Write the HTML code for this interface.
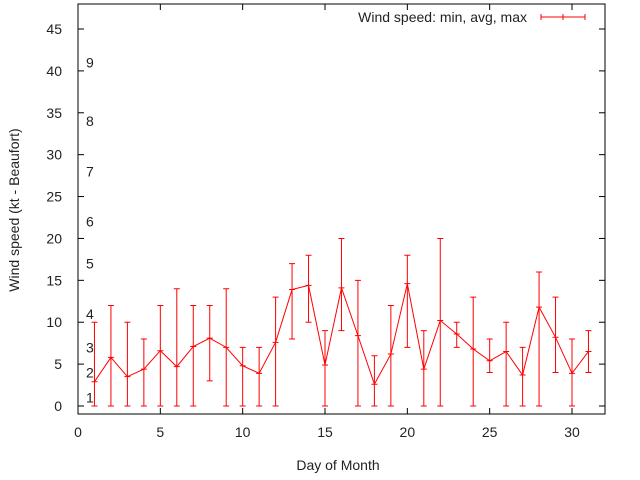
<!DOCTYPE html>
<html><head><meta charset="utf-8"><style>body{margin:0;background:#fff}svg{display:block;font-family:"Liberation Sans",sans-serif}</style></head>
<body>
<svg id="chart" width="640" height="480" xmlns="http://www.w3.org/2000/svg"></svg>
<script>
const days=[1,2,3,4,5,6,7,8,9,10,11,12,13,14,15,16,17,18,19,20,21,22,23,24,25,26,27,28,29,30,31];
const minVals=[0,0,0,0,0,0,0,3,0,0,0,0,8,10,0,9,0,0,0,7,0,0,7,0,4,0,0,0,4,0,4];
const avgVals=[2.9,5.8,3.5,4.4,6.6,4.7,7.1,8.1,7.0,4.8,3.9,7.6,13.9,14.4,4.9,14.1,8.4,2.6,6.2,14.6,4.4,10.2,8.6,6.8,5.4,6.5,3.7,11.8,8.2,3.9,6.5];
const maxVals=[10,12,10,8,12,14,12,12,14,7,7,13,17,18,9,20,15,6,12,18,9,20,10,13,8,10,7,16,13,8,9];
const xTicks=[0,5,10,15,20,25,30];
const yTicks=[0,5,10,15,20,25,30,35,40,45];
const beaufortLabels=["1","2","3","4","5","6","7","8","9"];
const beaufortKt=[1,4,7,11,17,22,28,34,41];
const L=78,R=605,T=4,B=414;
const X=v=>78+v*(572-78)/30;
const Y=v=>406-v*(406-29)/45;
const svg=document.getElementById('chart');
const NS='http://www.w3.org/2000/svg';
function mk(t,a,txt){const e=document.createElementNS(NS,t);for(const k in a)e.setAttribute(k,a[k]);if(txt!==undefined)e.textContent=txt;svg.appendChild(e);return e;}
let e;
e=mk('rect',{x:L,y:T,width:R-L,height:B-T,fill:'none',stroke:'#000','stroke-width':1});

xTicks.forEach(v=>{
 e=mk('line',{x1:X(v),x2:X(v),y1:B,y2:B-6,stroke:'#000'});
 
 e=mk('line',{x1:X(v),x2:X(v),y1:T,y2:T+6,stroke:'#000'});
 
 e=mk('text',{x:X(v),y:B+23,'text-anchor':'middle','font-size':14,fill:'#222'},String(v));
 
});
yTicks.forEach(v=>{
 e=mk('line',{x1:L,x2:L+6,y1:Y(v),y2:Y(v),stroke:'#000'});
 
 e=mk('line',{x1:R,x2:R-6,y1:Y(v),y2:Y(v),stroke:'#000'});
 
 e=mk('text',{x:L-16,y:Y(v)+5,'text-anchor':'end','font-size':14,fill:'#222'},String(v));
 
});
beaufortKt.forEach((v,i)=>{
 e=mk('text',{x:86,y:Y(v)+5,'font-size':14,fill:'#222'},beaufortLabels[i]);
 
});
e=mk('text',{x:338,y:470,'text-anchor':'middle','font-size':14,fill:'#222'},'Day of Month');

e=mk('text',{x:19,y:210,'text-anchor':'middle','font-size':14,fill:'#222',transform:'rotate(-90 19 210)'},'Wind speed (kt - Beaufort)');

e=mk('polyline',{points:days.map((d,i)=>X(d)+','+Y(avgVals[i])).join(' '),fill:'none',stroke:'#f00','stroke-width':1});

days.forEach((d,i)=>{
 const x=X(d);
 e=mk('path',{d:`M${x},${Y(minVals[i])}V${Y(maxVals[i])}M${x-3},${Y(minVals[i])}h6M${x-3},${Y(maxVals[i])}h6M${x-3},${Y(avgVals[i])}h6`,stroke:'#f00','stroke-width':1,fill:'none'});
 
});
e=mk('text',{x:527,y:22,'text-anchor':'end','font-size':14,fill:'#222'},'Wind speed: min, avg, max');

e=mk('path',{d:'M541,17H585M541,14v6M585,14v6M563,14v6',stroke:'#f00','stroke-width':1,fill:'none'});

</script>
</body></html>
